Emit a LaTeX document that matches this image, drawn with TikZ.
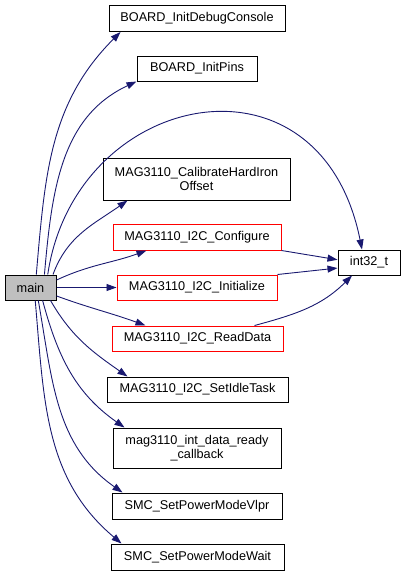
\documentclass[tikz,border=0pt]{standalone}
\usepackage{fontspec}
\setmainfont{Liberation Sans}
\usetikzlibrary{arrows.meta}
\definecolor{edge_blue}{RGB}{25,25,112}
\definecolor{box_red}{RGB}{255,0,0}
\definecolor{main_gray}{RGB}{191,191,191}

\begin{document}
\begin{tikzpicture}[x=1pt, y=-1pt,
    fn/.style={draw=black, line width=1pt, fill=white, minimum height=25pt,
        inner sep=0pt, align=center, font=\fontsize{12.7}{14.5}\selectfont},
    fnred/.style={fn, draw=box_red},
    call/.style={edge_blue, line width=0.9pt, -{Triangle[length=10pt,width=7pt]}}]
    \useasboundingbox (0,0) rectangle (405,576);

    % Caller
    \node[fn, fill=main_gray, minimum width=51pt] (main) at (30.5,287.5) {main};

    % Callees
    \node[fn, minimum width=176pt, minimum height=26pt] (dbg) at (197,18.5) {BOARD\_InitDebugConsole};
    \node[fn, minimum width=120pt] (pins) at (197,68.5) {BOARD\_InitPins};
    \node[fn, minimum width=187pt, minimum height=42pt] (calib) at (196.5,179) {MAG3110\_CalibrateHardIron\\Offset};
    \node[fnred, minimum width=168pt, minimum height=26pt] (conf) at (197,237) {MAG3110\_I2C\_Configure};
    \node[fnred, minimum width=160pt] (init) at (197,287.5) {MAG3110\_I2C\_Initialize};
    \node[fnred, minimum width=171pt] (read) at (197.5,338.5) {MAG3110\_I2C\_ReadData};
    \node[fn, minimum width=181pt] (idle) at (197.5,389.5) {MAG3110\_I2C\_SetIdleTask};
    \node[fn, minimum width=168pt, minimum height=40pt] (cb) at (197,448) {mag3110\_int\_data\_ready\\\_callback};
    \node[fn, minimum width=170pt, minimum height=26pt] (vlpr) at (197,506) {SMC\_SetPowerModeVlpr};
    \node[fn, minimum width=173pt, minimum height=26pt] (wait) at (197.5,557) {SMC\_SetPowerModeWait};
    \node[fn, minimum width=62pt] (int32) at (369,262.5) {int32\_t};

    % Calls from main
    \draw[call] (main.66) to[out=85, in=225] ([xshift=12pt]dbg.south west);
    \draw[call] (main.43) to[out=85, in=205] (pins.south west);
    \draw[call] (main.37) .. controls (75,90) and (320,40) .. ([xshift=-7pt]int32.north);
    \draw[call] (main.30) to[out=70, in=215] ([xshift=25pt]calib.south west);
    \draw[call] (main.16) to[out=25, in=200] ([xshift=34pt]conf.south west);
    \draw[call] (main.east) -- (init.west);
    \draw[call] (main.-18) to[out=-20, in=160] ([xshift=34pt]read.north west);
    \draw[call] (main.-33) to[out=-60, in=145] ([xshift=21pt]idle.north west);
    \draw[call] (main.-47) to[out=-75, in=145] ([xshift=12pt]cb.north west);
    \draw[call] (main.-59) to[out=-80, in=145] ([xshift=11pt]vlpr.north west);
    \draw[call] (main.-70) to[out=-85, in=140] ([xshift=11pt]wait.north west);

    % Calls into int32_t
    \draw[call] (conf.south east) -- (int32.175);
    \draw[call] (init.north east) -- (int32.190);
    \draw[call] ([xshift=57pt]read.north) to[out=15, in=225] ([xshift=-17pt]int32.south);
\end{tikzpicture}
\end{document}
